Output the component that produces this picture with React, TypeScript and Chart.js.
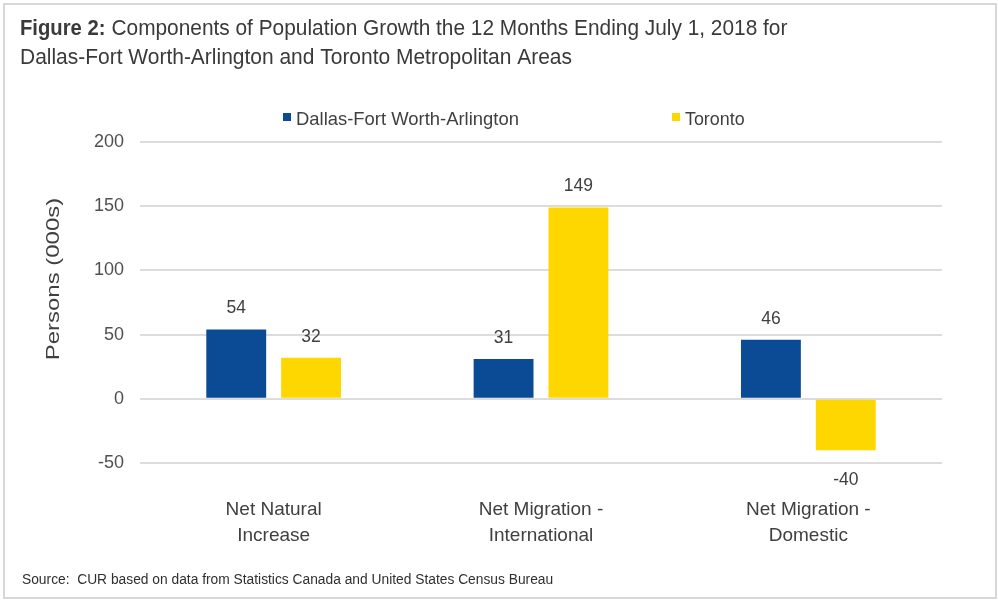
import React, { useEffect, useRef } from "react";
import { Chart, registerables } from "chart.js";

Chart.register(...registerables);

const categories: string[][] = [
  ["Net Natural", "Increase"],
  ["Net Migration -", "International"],
  ["Net Migration -", "Domestic"],
];
const seriesNames = ["Dallas-Fort Worth-Arlington", "Toronto"];
const dallasValues = [54, 31, 46];
const torontoValues = [32, 149, -40];
const seriesColors = ["#0B4A94", "#FFD700"];
const yMin = -50;
const yMax = 200;
const yStep = 50;
const titleBold = "Figure 2:";
const titleRest = "Components of Population Growth the 12 Months Ending July 1, 2018 for";
const titleLine2 = "Dallas-Fort Worth-Arlington and Toronto Metropolitan Areas";
const yAxisTitle = "Persons (000s)";
const sourceText = "Source:  CUR based on data from Statistics Canada and United States Census Bureau";

const FONT = '"Liberation Sans", Arial, sans-serif';
const TEXT = "#404040";

function drawText(
  ctx: CanvasRenderingContext2D,
  text: string,
  x: number,
  y: number,
  font: string,
  sx: number,
  align: CanvasTextAlign = "left",
  baseline: CanvasTextBaseline = "alphabetic"
) {
  ctx.save();
  ctx.font = font;
  ctx.textAlign = align;
  ctx.textBaseline = baseline;
  ctx.translate(x, y);
  ctx.scale(sx, 1);
  ctx.fillText(text, 0, 0);
  const w = ctx.measureText(text).width * sx;
  ctx.restore();
  return w;
}

const decorPlugin = {
  id: "decor",
  afterDraw(chart: any) {
    const ctx = chart.ctx as CanvasRenderingContext2D;
    ctx.save();
    // Title
    ctx.fillStyle = "#3a3a3a";
    const bw = drawText(ctx, titleBold, 20, 35, `bold 22px ${FONT}`, 0.92);
    drawText(ctx, titleRest, 20 + bw + 6, 35, `22px ${FONT}`, 0.948);
    drawText(ctx, titleLine2, 20, 64, `22px ${FONT}`, 0.953);

    // Legend
    ctx.fillStyle = seriesColors[0];
    ctx.fillRect(283, 113, 8, 8);
    ctx.fillStyle = TEXT;
    drawText(ctx, seriesNames[0], 296, 125, `19px ${FONT}`, 0.97);
    ctx.fillStyle = seriesColors[1];
    ctx.fillRect(672, 113, 8, 8);
    ctx.fillStyle = TEXT;
    drawText(ctx, seriesNames[1], 685, 125, `19px ${FONT}`, 0.94);

    // Y axis title
    ctx.save();
    ctx.translate(54, 279);
    ctx.rotate(-Math.PI / 2);
    drawText(ctx, yAxisTitle, 0, 0, `18px ${FONT}`, 1.33, "center", "middle");
    ctx.restore();

    // Data labels
    ctx.fillStyle = TEXT;
    chart.data.datasets.forEach((ds: any, di: number) => {
      const meta = chart.getDatasetMeta(di);
      meta.data.forEach((bar: any, i: number) => {
        const v = ds.data[i];
        if (v >= 0) {
          drawText(ctx, String(v), bar.x, bar.y - 16, `19px ${FONT}`, 0.92, "center", "alphabetic");
        } else {
          drawText(ctx, String(v), bar.x, bar.y + 20, `19px ${FONT}`, 0.92, "center", "top");
        }
      });
    });

    // Source
    ctx.fillStyle = "#303030";
    drawText(ctx, sourceText, 22, 584, `14px ${FONT}`, 0.985);
    ctx.restore();
  },
};

export default function App() {
  const ref = useRef<HTMLCanvasElement>(null);
  useEffect(() => {
    if (!ref.current) return;
    const chart = new Chart(ref.current, {
      type: "bar",
      data: {
        labels: categories,
        datasets: [
          {
            label: seriesNames[0],
            data: dallasValues,
            backgroundColor: seriesColors[0],
            categoryPercentage: 0.56,
            barPercentage: 0.8,
          },
          {
            label: seriesNames[1],
            data: torontoValues,
            backgroundColor: seriesColors[1],
            categoryPercentage: 0.56,
            barPercentage: 0.8,
          },
        ],
      },
      options: {
        responsive: false,
        animation: false,
        devicePixelRatio: 1,
        layout: { padding: { top: 142, right: 56, bottom: 39, left: 0 } },
        plugins: { legend: { display: false }, title: { display: false }, tooltip: { enabled: false } },
        scales: {
          x: {
            grid: { display: false },
            border: { display: false },
            ticks: {
              color: TEXT,
              font: { family: FONT, size: 19, lineHeight: 1.4 },
              padding: 25,
              maxRotation: 0,
            },
            afterFit: (s: any) => {
              s.height = 100;
            },
          },
          y: {
            min: yMin,
            max: yMax,
            ticks: {
              stepSize: yStep,
              color: "#505050",
              font: { family: FONT, size: 18 },
              padding: 16,
            },
            grid: { color: "#dcdcdc", lineWidth: 2, drawTicks: false },
            border: { display: false },
            afterFit: (s: any) => {
              s.width = 140;
            },
          },
        },
      },
      plugins: [decorPlugin],
    } as any);
    return () => chart.destroy();
  }, []);
  return (
    <div style={{ position: "absolute", left: 0, top: 0, width: 998, height: 602, background: "#fff" }}>
      <div
        style={{
          position: "absolute",
          left: 3,
          top: 3,
          width: 990,
          height: 592,
          border: "2px solid #d8d8d8",
        }}
      />
      <canvas ref={ref} width={998} height={602} style={{ position: "absolute", left: 0, top: 0 }} />
    </div>
  );
}
